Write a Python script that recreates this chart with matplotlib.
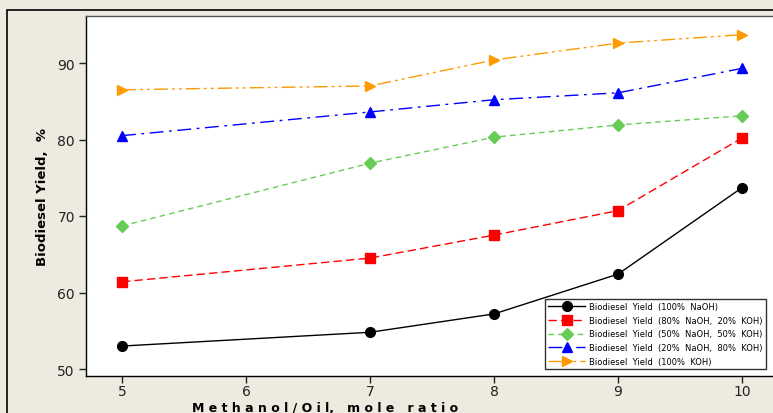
import matplotlib
matplotlib.use('Agg')
import matplotlib.pyplot as plt
from matplotlib.patches import Rectangle

# 데이터
ratio = [5, 7, 8, 9, 10]
naoh_100 = [53.0, 54.8, 57.2, 62.4, 73.7]
naoh_80 = [61.4, 64.5, 67.5, 70.7, 80.2]
naoh_50 = [68.7, 76.9, 80.3, 81.9, 83.1]
naoh_20 = [80.5, 83.6, 85.2, 86.1, 89.3]
koh_100 = [86.5, 87.0, 90.4, 92.6, 93.7]

labels = [
    'Biodiesel  Yield  (100%  NaOH)',
    'Biodiesel  Yield  (80%  NaOH,  20%  KOH)',
    'Biodiesel  Yield  (50%  NaOH,  50%  KOH)',
    'Biodiesel  Yield  (20%  NaOH,  80%  KOH)',
    'Biodiesel  Yield  (100%  KOH)',
]
x_ticks = [5, 6, 7, 8, 9, 10]
y_ticks = [50, 60, 70, 80, 90]

W, H = 773, 414
fig = plt.figure(figsize=(W / 100, H / 100), dpi=100, facecolor='#EEEAE0')

# 바깥 테두리
fig.patches.append(Rectangle((7 / W, -0.1), 1.0, 1 - 11 / H + 0.1, transform=fig.transFigure,
                             fill=False, edgecolor='black', linewidth=1.2))

# 축 영역 (오른쪽은 잘려 있음)
left, top, bottom = 86 / W, 17 / H, 377 / H
ax = fig.add_axes([left, 1 - bottom, 1.2, bottom - top])
ax.set_facecolor('white')

styles = [
    dict(color='black', linestyle='-', marker='o', markersize=7),
    dict(color='#FF0000', linestyle=(0, (6, 3)), marker='s', markersize=7),
    dict(color='#66CC55', linestyle=(0, (4, 3)), marker='D', markersize=6),
    dict(color='#0000FF', linestyle=(0, (10, 4, 2, 4)), marker='^', markersize=7.5),
    dict(color='#FF9900', linestyle=(0, (10, 3, 2, 3, 2, 3)), marker='>', markersize=7.5),
]
series = [naoh_100, naoh_80, naoh_50, naoh_20, koh_100]
for ys, st, lab in zip(series, styles, labels):
    ax.plot(ratio, ys, linewidth=1.0, label=lab, **st)

# 축 범위: 픽셀 위치에 맞춤
px_per_x = (742 - 122) / 5
ax.set_xlim(5 - (122 - 86) / px_per_x, 5 - (122 - 86) / px_per_x + 1.2 * W / px_per_x)
px_per_y = (370 - 64) / 40
ax.set_ylim(50 - (377 - 370) / px_per_y, 90 + (64 - 17) / px_per_y)

ax.set_xticks(x_ticks)
ax.set_yticks(y_ticks)
ax.tick_params(direction='out', length=5, width=1, labelsize=10, colors='#222222', pad=3)
ax.tick_params(axis='x', pad=1)
for s in ['left', 'bottom', 'top', 'right']:
    ax.spines[s].set_linewidth(1.0)
ax.spines['top'].set_color('#555555')

ax.set_ylabel('Biodiesel Yield,  %', fontsize=9.5, fontweight='bold', labelpad=6)
fig.text(325 / W, 1 - 409 / H, 'M e t h a n o l / O i l,   m o l e   r a t i o', fontsize=9,
         fontweight='bold', ha='center', va='center')

leg = ax.legend(loc='upper left', bbox_to_anchor=(545 / W, 1 - 300 / H),
                bbox_transform=fig.transFigure, fontsize=6.0, frameon=True, fancybox=False,
                edgecolor='black', handlelength=4.4, labelspacing=0.55, borderpad=0.4,
                handletextpad=0.5, borderaxespad=0)
leg.get_frame().set_linewidth(1.0)

plt.savefig('out.png', dpi=100, facecolor=fig.get_facecolor())
plt.close()
